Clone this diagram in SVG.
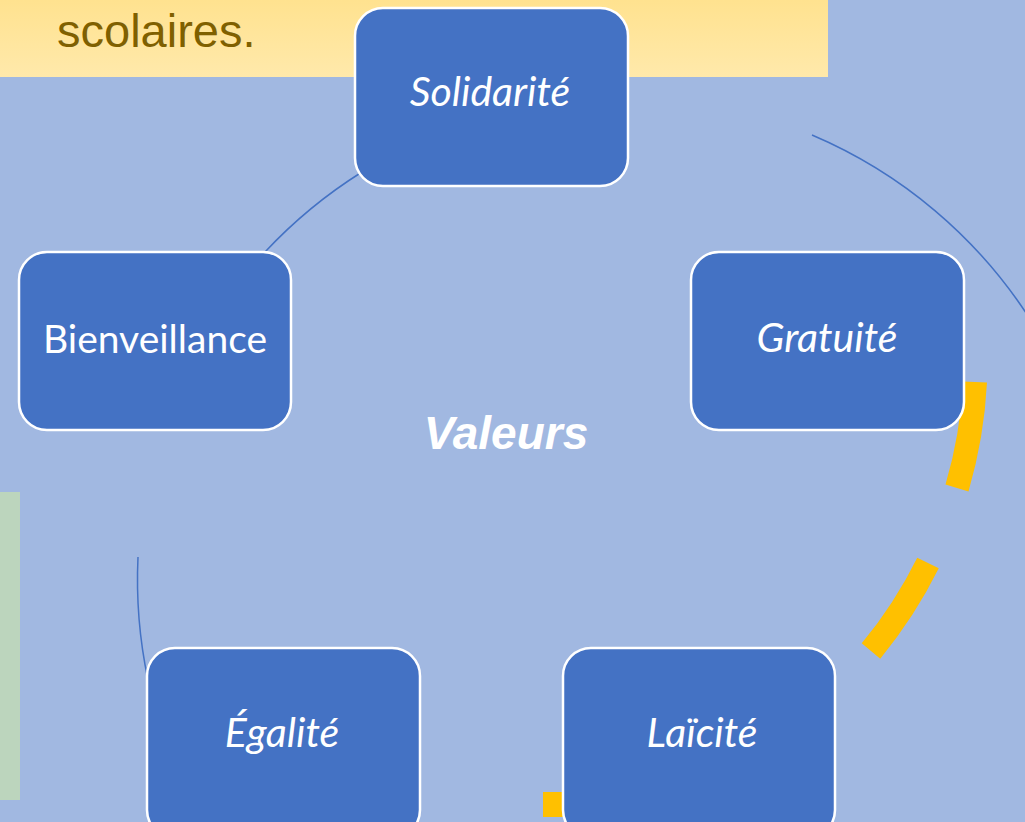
<svg xmlns="http://www.w3.org/2000/svg" width="1025" height="822" viewBox="0 0 1025 822">
<style>
.node rect{fill:#4472c4;stroke:#ffffff;stroke-width:2.5}
.lbl{font-family:Lato,"Open Sans","Noto Sans",sans-serif;font-size:39px;fill:#ffffff;text-anchor:middle}
.it{font-style:italic;font-size:41px}
.conn path{fill:none;stroke:#4472c4;stroke-width:1.5}
.dash path{fill:none;stroke:#ffc000;stroke-width:24}
</style>
<defs>
<linearGradient id="yg" x1="0" y1="0" x2="0" y2="1">
<stop offset="0" stop-color="#ffe28f"/>
<stop offset="1" stop-color="#ffe9ab"/>
</linearGradient>
</defs>
<rect x="0" y="0" width="1025" height="822" fill="#a1b8e1"/>
<g id="header">
<rect x="0" y="0" width="828" height="77" fill="url(#yg)"/>
<text x="57" y="47" font-family="'Liberation Sans',Arial,sans-serif" font-size="47" fill="#7f6000">scolaires.</text>
</g>
<rect id="sidebar" x="0" y="492" width="20" height="308" fill="#bcd5bd"/>
<g id="dashes" class="dash">
<path d="M975,382 A457,457 0 0 1 957,488"/>
<path d="M928,563 A457,457 0 0 1 871,651"/>
<path d="M543,804.5 L600,804.5" style="stroke-width:25"/>
</g>
<g id="connectors" class="conn">
<path d="M265,252 A484,484 0 0 1 362,172"/>
<path d="M812,135 A484,484 0 0 1 1030,319"/>
<path d="M138,557 A484,484 0 0 0 148,680"/>
</g>
<text id="center" x="506" y="449" font-family="'Liberation Sans',Arial,sans-serif" font-size="46" font-weight="bold" font-style="italic" fill="#ffffff" text-anchor="middle">Valeurs</text>
<g id="n-solidarite" class="node">
<rect x="355" y="8" width="273" height="178" rx="28"/>
<text class="lbl it" x="490" y="106">Solidarité</text>
</g>
<g id="n-gratuite" class="node">
<rect x="691" y="252" width="273" height="178" rx="28"/>
<text class="lbl it" x="827" y="352">Gratuité</text>
</g>
<g id="n-bienveillance" class="node">
<rect x="19" y="252" width="272" height="178" rx="28"/>
<text class="lbl" x="155" y="353">Bienveillance</text>
</g>
<g id="n-egalite" class="node">
<rect x="147" y="648" width="273" height="190" rx="28"/>
<text class="lbl it" x="282" y="747">Égalité</text>
</g>
<g id="n-laicite" class="node">
<rect x="563" y="648" width="272" height="190" rx="28"/>
<text class="lbl it" x="702" y="747">Laïcité</text>
</g>
</svg>
